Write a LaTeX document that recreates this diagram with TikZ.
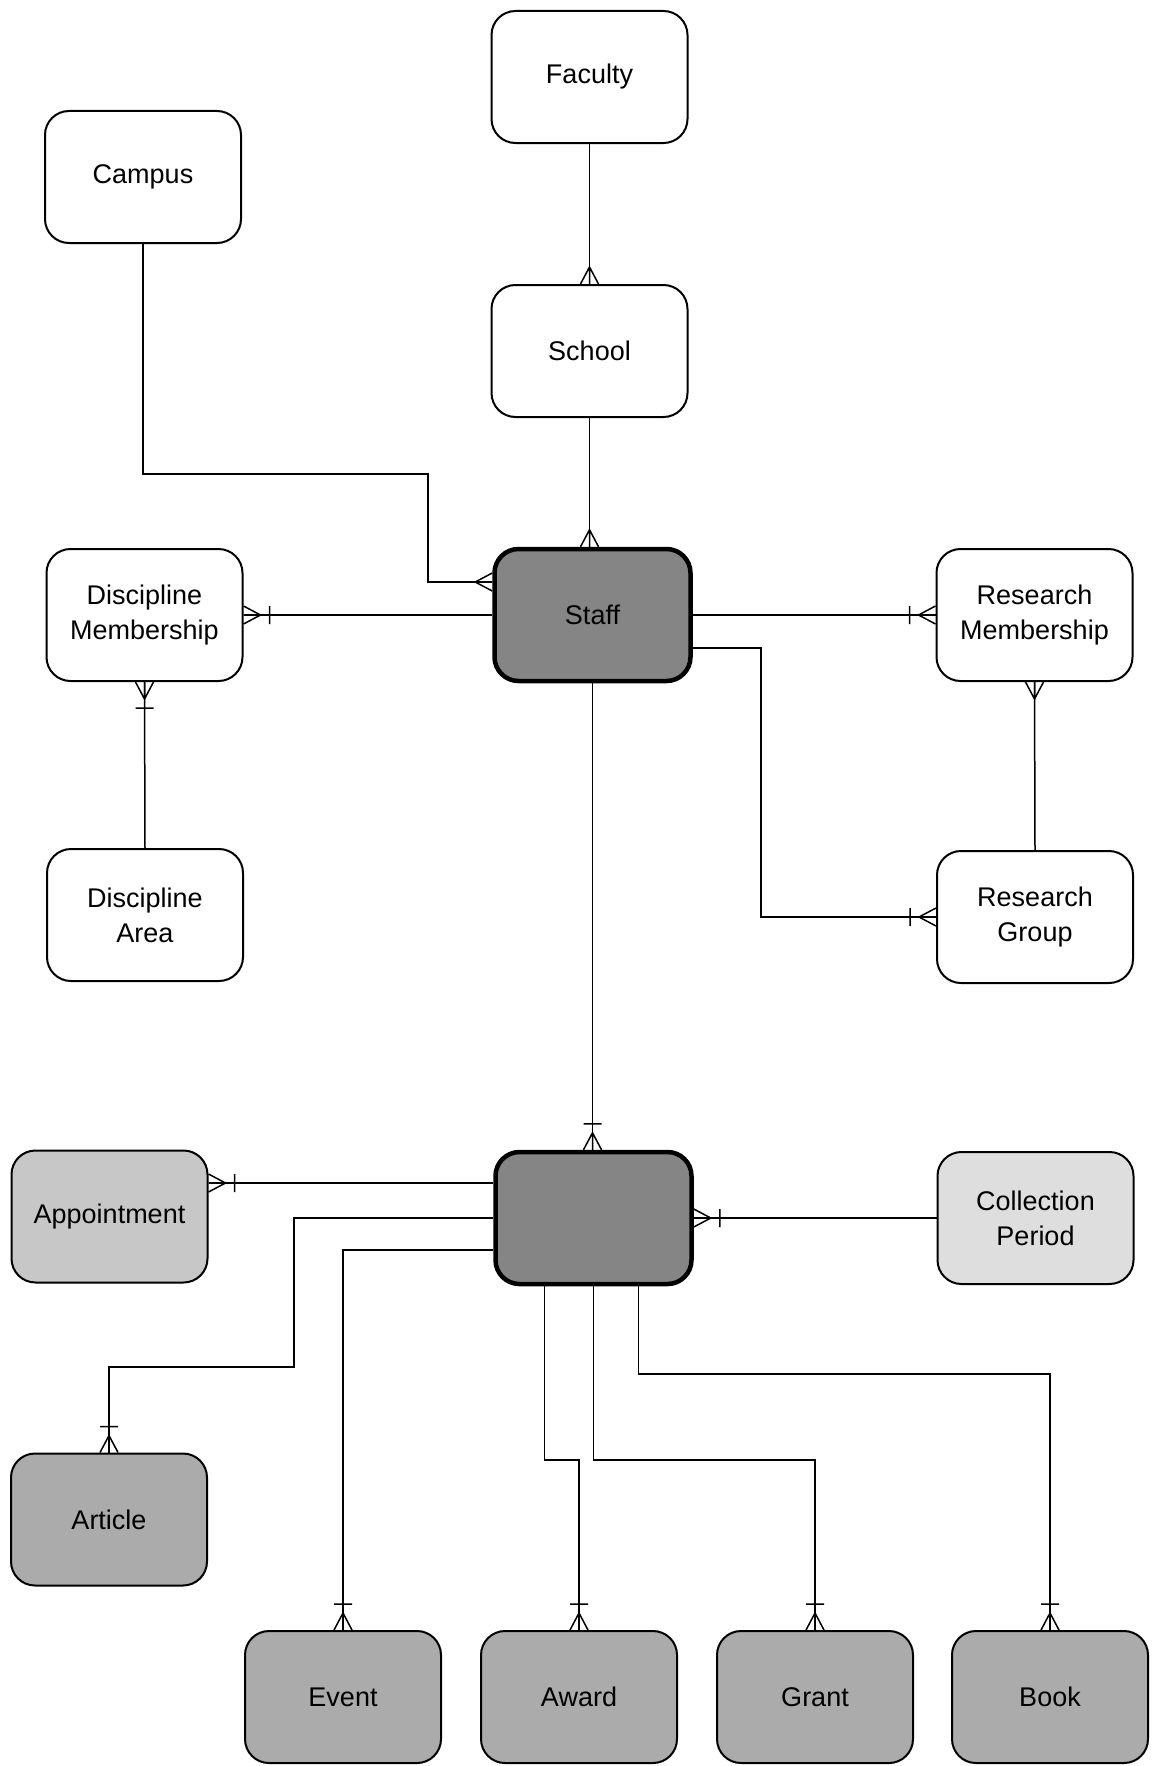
\documentclass[tikz,border=0pt]{standalone}
\usepackage{fontspec}
\setmainfont{Liberation Sans}
\usetikzlibrary{calc}

% crow's foot ("many") at a box edge; #2 is the outward direction of the line
\newcommand{\crowfoot}[2]{%
  \begin{scope}[shift={(#1)}, rotate=#2]
    \draw[conn] (0pt,-9pt) -- (17pt,0pt) -- (0pt,9pt) (0pt,0pt) -- (17pt,0pt);
  \end{scope}}
% crow's foot with a single bar ("one or many")
\newcommand{\crowbar}[2]{%
  \begin{scope}[shift={(#1)}, rotate=#2]
    \draw[conn] (0pt,-9pt) -- (17pt,0pt) -- (0pt,9pt) (0pt,0pt) -- (17pt,0pt)
                (26pt,-9pt) -- (26pt,9pt);
  \end{scope}}

\tikzset{
  ent/.style={draw, rounded corners=24pt, minimum width=196pt, minimum height=132pt,
              line width=2pt, align=center, inner sep=0pt,
              font=\fontsize{27}{35}\selectfont},
  core/.style={ent, fill=black!48, line width=4.5pt},
  outbox/.style={ent, fill=black!33},
  apptbox/.style={ent, fill=black!22},
  periodbox/.style={ent, fill=black!13},
  conn/.style={line width=1.5pt},
}

\begin{document}
\begin{tikzpicture}[x=1pt, y=-1pt]
  \useasboundingbox (0,0) rectangle (1157,1766);

  % entities
  \node[ent] (faculty) at (589.5,77) {Faculty};
  \node[ent] (school) at (589.5,351) {School};
  \node[ent] (campus) at (143,177) {Campus};
  \node[ent] (dmem) at (144.5,615) {Discipline\\Membership};
  \node[ent] (darea) at (145,915) {Discipline\\Area};
  \node[core] (staff) at (592.5,615) {Staff};
  \node[ent] (rmem) at (1034.5,615) {Research\\Membership};
  \node[ent] (rgroup) at (1035,917) {Research\\Group};
  \node[core] (hub) at (593.5,1218) {};
  \node[apptbox] (appt) at (109.5,1216.5) {Appointment};
  \node[periodbox] (cperiod) at (1035.5,1218) {Collection\\Period};
  \node[outbox] (article) at (109,1519.5) {Article};
  \node[outbox] (event) at (343,1697) {Event};
  \node[outbox] (award) at (579,1697) {Award};
  \node[outbox] (grant) at (815,1697) {Grant};
  \node[outbox] (book) at (1050,1697) {Book};

  % bend points
  \coordinate (campusbend) at (428,474);
  \coordinate (staffw) at ([yshift=33pt]staff.west);
  \coordinate (staffe) at ([yshift=-33pt]staff.east);
  \coordinate (rgbend) at (761,648);
  \coordinate (hubw1) at ([yshift=35pt]hub.west);
  \coordinate (hubw3) at ([yshift=-32pt]hub.west);
  \coordinate (apptend) at (hubw1 -| appt.east);
  \coordinate (artbend) at (294,1367);
  \coordinate (hubs1) at ([xshift=-49pt]hub.south);
  \coordinate (hubs3) at ([xshift=45pt]hub.south);
  \coordinate (awy) at (0,1460);
  \coordinate (bky) at (0,1374);

  % upper relationships
  \draw[conn] (faculty.south) -- (school.north);
  \crowfoot{school.north}{90}
  \draw[conn] (school.south) -- (school.south |- staff.north);
  \crowfoot{school.south |- staff.north}{90}
  \draw[conn] (campus.south) |- (campusbend) |- (staffw);
  \crowfoot{staffw}{180}
  \draw[conn] (dmem.east) -- (staff.west);
  \crowbar{dmem.east}{0}
  \draw[conn] (dmem.south) -- (darea.north);
  \crowbar{dmem.south}{270}
  \draw[conn] (staff.east) -- (rmem.west);
  \crowbar{rmem.west}{180}
  \draw[conn] (staffe) -- (rgbend) |- (rgroup.west);
  \crowbar{rgroup.west}{180}
  \draw[conn] (rmem.south) -- (rgroup.north);
  \crowfoot{rmem.south}{270}
  \draw[conn] (staff.south) -- (staff.south |- hub.north);
  \crowbar{staff.south |- hub.north}{90}

  % lower relationships
  \draw[conn] (hubw1) -- (apptend);
  \crowbar{apptend}{0}
  \draw[conn] (hub.west) -| (artbend) -| (article.north);
  \crowbar{article.north}{90}
  \draw[conn] (hubw3) -| (event.north);
  \crowbar{event.north}{90}
  \draw[conn] (hub.east) -- (cperiod.west);
  \crowbar{hub.east}{0}
  \draw[conn] (hubs1) |- (awy -| award.north) -- (award.north);
  \crowbar{award.north}{90}
  \draw[conn] (hub.south) |- (awy -| grant.north) -- (grant.north);
  \crowbar{grant.north}{90}
  \draw[conn] (hubs3) |- (bky -| book.north) -- (book.north);
  \crowbar{book.north}{90}
\end{tikzpicture}
\end{document}
